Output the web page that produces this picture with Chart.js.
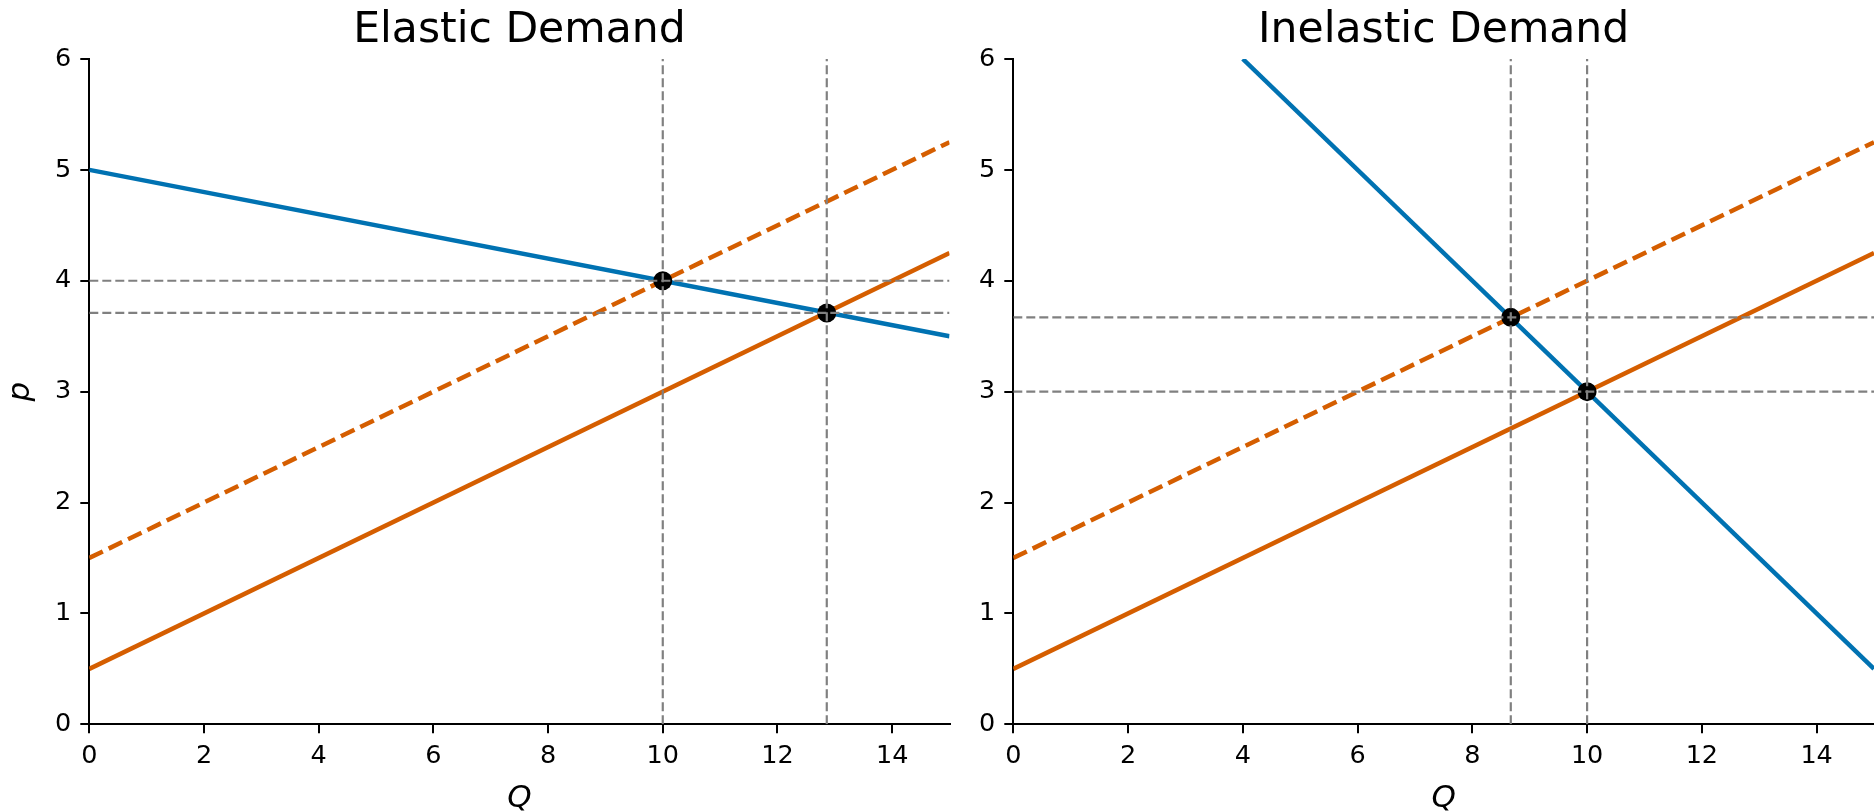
<!DOCTYPE html>
<html>
<head>
<meta charset="utf-8">
<title>Elastic vs Inelastic Demand</title>
<script src="https://cdn.jsdelivr.net/npm/chart.js@4.4.1/dist/chart.umd.min.js"></script>
<style>
  html, body { margin: 0; padding: 0; background: #ffffff; }
  body { width: 1874px; height: 811px; position: relative; overflow: hidden; }
  canvas { position: absolute; top: 0; }
  #elastic { left: 0; }
  #inelastic { left: 960px; }
</style>
</head>
<body>
<canvas id="elastic" width="960" height="811"></canvas>
<canvas id="inelastic" width="940" height="811"></canvas>
<script>
// Axis ticks and limits
const qTicks = [0, 2, 4, 6, 8, 10, 12, 14];
const pTicks = [0, 1, 2, 3, 4, 5, 6];
const qLimits = [0, 15];
const pLimits = [0, 6];

// Supply curves (shared by both panels), endpoints at Q = 0 and Q = 15
const supplyQ = [0, 15];
const supplyP = [0.5, 4.25];
const supplyShiftedP = [1.5, 5.25];

// Elastic demand and its equilibria
const elasticDemandQ = [0, 15];
const elasticDemandP = [5, 3.5];
const elasticEqQ = [10, 12.86];
const elasticEqP = [4, 3.71];

// Inelastic demand and its equilibria
const inelasticDemandQ = [4, 15];
const inelasticDemandP = [6, 0.5];
const inelasticEqQ = [8.67, 10];
const inelasticEqP = [3.67, 3];

const BLUE = '#0072B2';
const ORANGE = '#D55E00';
const GRAY = '#808080';
const FONT = "'DejaVu Sans', sans-serif";

const pts = (xs, ys) => xs.map((x, i) => ({ x: x, y: ys[i] }));

// Titles and axis labels drawn relative to the plot area
const panelText = {
  id: 'panelText',
  afterDraw(chart, args, o) {
    const ctx = chart.ctx;
    const a = chart.chartArea;
    const cx = (a.left + a.right) / 2;
    ctx.save();
    ctx.fillStyle = '#000';
    ctx.textAlign = 'center';
    ctx.textBaseline = 'alphabetic';
    ctx.font = '42.5px ' + FONT;
    ctx.fillText(o.title, cx, 42);
    ctx.font = 'italic 31px ' + FONT;
    ctx.fillText('Q', cx, 807);
    if (o.yLabel) {
      ctx.translate(29, (a.top + a.bottom) / 2);
      ctx.rotate(-Math.PI / 2);
      ctx.fillText(o.yLabel, 0, 0);
    }
    ctx.restore();
  }
};

function makePanel(id, cfg) {
  const lineDs = (data, color, dash) => ({
    data: data, showLine: true, borderColor: color, borderWidth: 4.5,
    borderDash: dash || [], pointRadius: 0, order: 3, fill: false
  });
  const eq = pts(cfg.eqQ, cfg.eqP);
  const guides = [];
  eq.forEach(p => {
    guides.push({ data: [{ x: p.x, y: pLimits[0] }, { x: p.x, y: pLimits[1] }] });
    guides.push({ data: [{ x: qLimits[0], y: p.y }, { x: qLimits[1], y: p.y }] });
  });
  const guideDs = guides.map(g => ({
    data: g.data, showLine: true, borderColor: GRAY, borderWidth: 2.2,
    borderDash: [9, 4], pointRadius: 0, order: 1
  }));
  const datasets = [
    ...guideDs,
    { data: eq, showLine: false, pointRadius: 9.5, pointBackgroundColor: '#000',
      pointBorderColor: '#000', pointBorderWidth: 0, order: 2 },
    lineDs(pts(cfg.demandQ, cfg.demandP), BLUE),
    lineDs(pts(supplyQ, supplyShiftedP), ORANGE, [15, 6.5]),
    lineDs(pts(supplyQ, supplyP), ORANGE)
  ];
  const tickFont = { family: FONT, size: 25.5 };
  return new Chart(document.getElementById(id), {
    type: 'scatter',
    data: { datasets: datasets },
    options: {
      responsive: false,
      animation: false,
      events: [],
      layout: { padding: { top: 59, right: cfg.padRight, bottom: 0, left: 0 } },
      plugins: {
        legend: { display: false },
        tooltip: { enabled: false },
        panelText: { title: cfg.title, yLabel: cfg.yLabel }
      },
      scales: {
        x: {
          type: 'linear', min: qLimits[0], max: qLimits[1],
          afterBuildTicks: s => { s.ticks = qTicks.map(v => ({ value: v })); },
          afterFit: s => { s.height = 811 - 724.3; },
          ticks: { font: tickFont, color: '#000', padding: 8, autoSkip: false, maxRotation: 0 },
          grid: { drawOnChartArea: false, drawTicks: true, tickLength: 9, color: '#000', lineWidth: 2 },
          border: { display: true, color: '#000', width: 2 }
        },
        y: {
          type: 'linear', min: pLimits[0], max: pLimits[1],
          afterBuildTicks: s => { s.ticks = pTicks.map(v => ({ value: v })); },
          afterFit: s => { s.width = cfg.axisW; },
          ticks: { font: tickFont, color: '#000', padding: 9, autoSkip: false },
          grid: { drawOnChartArea: false, drawTicks: true, tickLength: 9, color: '#000', lineWidth: 2 },
          border: { display: true, color: '#000', width: 2 }
        }
      }
    },
    plugins: [panelText]
  });
}

makePanel('elastic', {
  title: 'Elastic Demand', yLabel: 'p', axisW: 89.3, padRight: 10.5,
  demandQ: elasticDemandQ, demandP: elasticDemandP, eqQ: elasticEqQ, eqP: elasticEqP
});
makePanel('inelastic', {
  title: 'Inelastic Demand', yLabel: null, axisW: 53.3, padRight: 26,
  demandQ: inelasticDemandQ, demandP: inelasticDemandP, eqQ: inelasticEqQ, eqP: inelasticEqP
});
</script>
</body>
</html>
